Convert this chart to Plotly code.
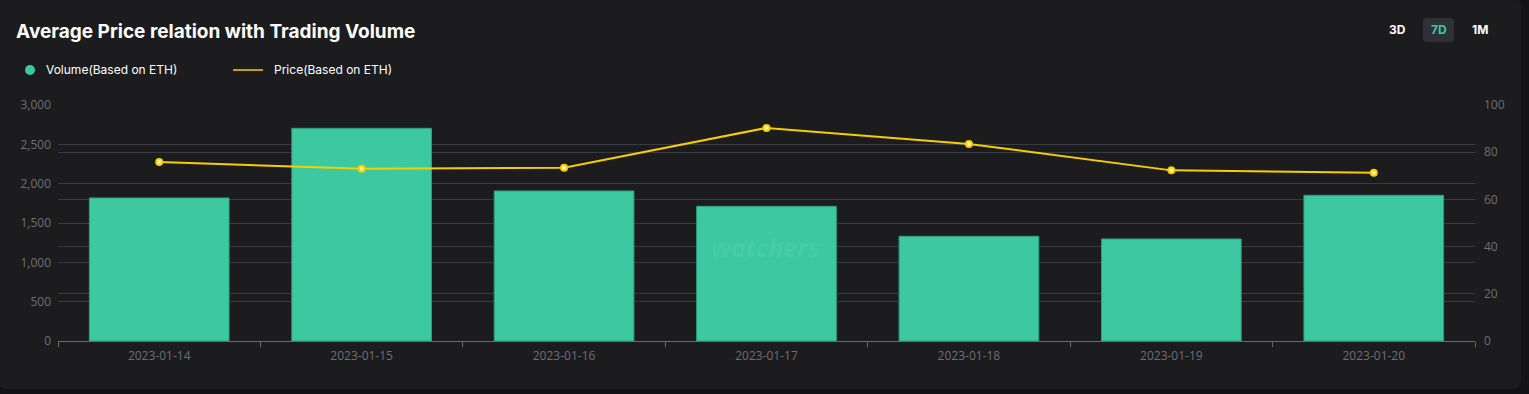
import plotly.graph_objects as go

dates = ["2023-01-14", "2023-01-15", "2023-01-16", "2023-01-17", "2023-01-18", "2023-01-19", "2023-01-20"]
volume = [1818, 2704, 1907, 1712, 1331, 1297, 1852]
price = [75.8, 73.0, 73.4, 90.3, 83.5, 72.3, 71.3]
left_ticks = [0, 500, 1000, 1500, 2000, 2500, 3000]
right_ticks = [0, 20, 40, 60, 80, 100]

W, H = 1529, 394
L, R, T, B = 58, 54, 105, 53
PW, PH = W - L - R, H - T - B

def px(x):
    return (x - L) / PW

def py(y):
    return (H - B - y) / PH

CARD = "#1c1c1f"
OUTER = "#131315"
GRID = "#3a3a41"
TICK = "#6e6e76"
GREEN = "#3cc9a0"
YELLOW = "#f7cf00"

fig = go.Figure()
fig.add_trace(go.Bar(
    x=dates, y=volume, name="Volume(Based on ETH)",
    marker=dict(color=GREEN, line=dict(color="#2f9e80", width=1)),
    yaxis="y", showlegend=False, hoverinfo="x+y",
))
fig.add_trace(go.Scatter(
    x=dates, y=price, name="Price(Based on ETH)", mode="lines+markers",
    line=dict(color=YELLOW, width=2),
    marker=dict(size=6, color="#fff6b8", line=dict(color=YELLOW, width=2)),
    yaxis="y2", showlegend=False,
))

def card_path(x0, y0, x1, y1, r):
    pts = []
    pts.append(f"M {px(x0 + r)},{py(y0)}")
    pts.append(f"L {px(x1 - r)},{py(y0)}")
    pts.append(f"Q {px(x1)},{py(y0)} {px(x1)},{py(y0 + r)}")
    pts.append(f"L {px(x1)},{py(y1 - r)}")
    pts.append(f"Q {px(x1)},{py(y1)} {px(x1 - r)},{py(y1)}")
    pts.append(f"L {px(x0 + r)},{py(y1)}")
    pts.append(f"Q {px(x0)},{py(y1)} {px(x0)},{py(y1 - r)}")
    pts.append(f"L {px(x0)},{py(y0 + r)}")
    pts.append(f"Q {px(x0)},{py(y0)} {px(x0 + r)},{py(y0)}")
    pts.append("Z")
    return " ".join(pts)

shapes = [
    dict(type="path", xref="paper", yref="paper", path=card_path(-2, -2, 1521, 389, 9),
         fillcolor=CARD, line=dict(width=0), layer="below"),
    dict(type="circle", xref="paper", yref="paper",
         x0=px(25), x1=px(35), y0=py(75), y1=py(65),
         fillcolor=GREEN, line=dict(width=0)),
    dict(type="line", xref="paper", yref="paper",
         x0=px(233), x1=px(263), y0=py(70), y1=py(70),
         line=dict(color=YELLOW, width=1.5)),
    dict(type="path", xref="paper", yref="paper", path=card_path(1423, 18, 1454, 42, 4),
         fillcolor="#2e3136", line=dict(width=0)),
]

annotations = [
    dict(text="<b>Average Price relation with Trading Volume</b>", xref="paper", yref="paper",
         x=px(14), y=py(32), xanchor="left", yanchor="middle", showarrow=False,
         font=dict(family="Inter", size=19, color="#ffffff")),
    dict(text="Volume(Based on ETH)", xref="paper", yref="paper",
         x=px(44), y=py(70), xanchor="left", yanchor="middle", showarrow=False,
         font=dict(family="Inter", size=12, color="#ffffff")),
    dict(text="Price(Based on ETH)", xref="paper", yref="paper",
         x=px(272), y=py(70), xanchor="left", yanchor="middle", showarrow=False,
         font=dict(family="Inter", size=12, color="#ffffff")),
    dict(text="<b>3D</b>", xref="paper", yref="paper",
         x=px(1397), y=py(30), xanchor="center", yanchor="middle", showarrow=False,
         font=dict(family="Inter", size=12, color="#ffffff")),
    dict(text="<b>7D</b>", xref="paper", yref="paper",
         x=px(1438.5), y=py(30), xanchor="center", yanchor="middle", showarrow=False,
         font=dict(family="Inter", size=12, color=GREEN)),
    dict(text="<b>1M</b>", xref="paper", yref="paper",
         x=px(1480), y=py(30), xanchor="center", yanchor="middle", showarrow=False,
         font=dict(family="Inter", size=12, color="#ffffff")),
    dict(text="<b><i>watchers</i></b>", xref="paper", yref="paper",
         x=px(765), y=py(247), xanchor="center", yanchor="middle", showarrow=False,
         font=dict(family="Open Sans", size=25, color="rgba(255,255,255,0.06)")),
    dict(text="Powered by Nabox", xref="paper", yref="paper",
         x=px(772), y=py(268), xanchor="center", yanchor="middle", showarrow=False,
         font=dict(family="Open Sans", size=6, color="rgba(255,255,255,0.05)")),
]

fig.update_layout(
    width=W, height=H,
    margin=dict(l=L, r=R, t=T, b=B, pad=0),
    paper_bgcolor=OUTER, plot_bgcolor="rgba(0,0,0,0)",
    bargap=0.31,
    showlegend=False,
    shapes=shapes,
    annotations=annotations,
    font=dict(family="Open Sans", size=12, color=TICK),
    xaxis=dict(
        type="category", showgrid=False, zeroline=False,
        showline=True, linecolor="#6a6a70", linewidth=1,
        ticks="outside", tickson="boundaries", ticklen=5, tickcolor="#6a6a70",
        ticklabelstandoff=4,
        tickfont=dict(family="Open Sans", size=12, color=TICK),
    ),
    yaxis=dict(
        range=[0, 3000], tickvals=left_ticks, tickformat=",", showgrid=True,
        gridcolor=GRID, gridwidth=1, zeroline=False, showline=False,
        ticks="", ticklabelstandoff=6,
        tickfont=dict(family="Open Sans", size=12, color=TICK),
    ),
    yaxis2=dict(
        range=[0, 100], tickvals=right_ticks, overlaying="y", side="right",
        showgrid=True, gridcolor=GRID, gridwidth=1, zeroline=False, showline=False,
        ticks="", ticklabelstandoff=8,
        tickfont=dict(family="Open Sans", size=12, color=TICK),
    ),
)

fig.write_html(
    "out.html",
    config={"displayModeBar": False},
    post_script="document.body.style.margin='0';document.body.style.padding='0';document.body.style.background='#131315';",
)
